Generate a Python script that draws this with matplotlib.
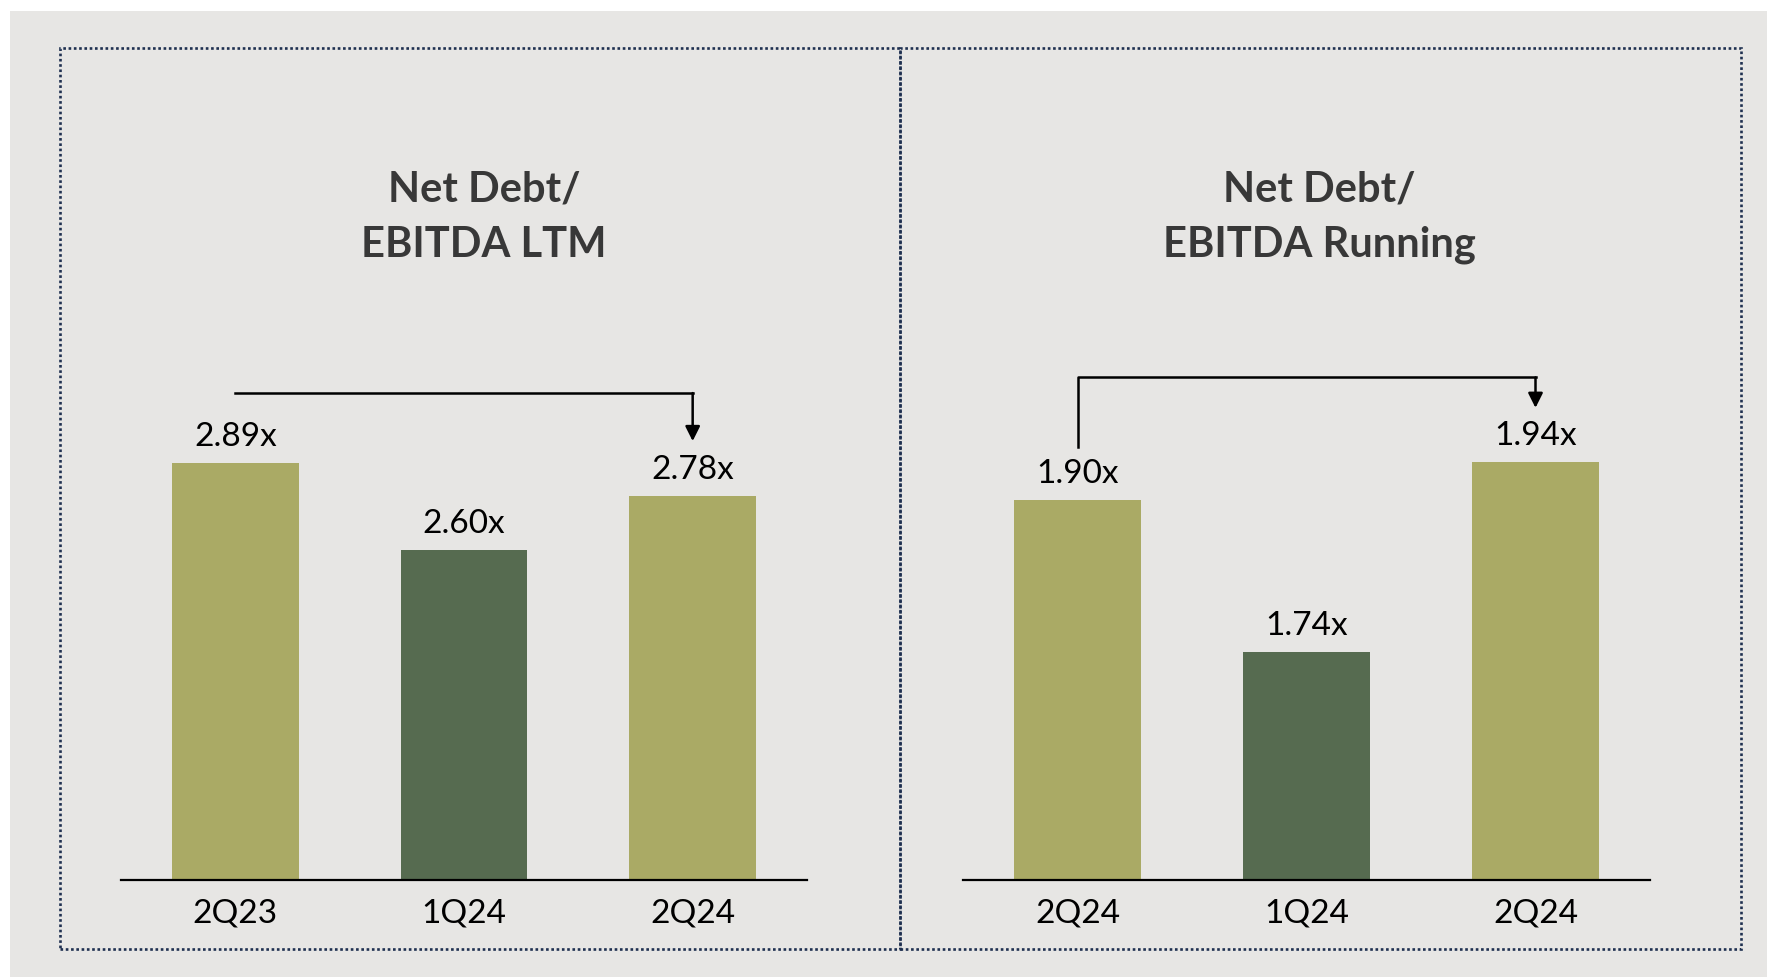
import matplotlib.pyplot as plt
from matplotlib.patches import Rectangle

plt.rcParams['font.family'] = ['Lato', 'DejaVu Sans']

# data
ltm_labels = ['2Q23', '1Q24', '2Q24']
ltm_values = [2.89, 2.60, 2.78]
run_labels = ['2Q24', '1Q24', '2Q24']
run_values = [1.90, 1.74, 1.94]
titles = ['Net Debt/\nEBITDA LTM', 'Net Debt/\nEBITDA Running']

LIGHT = '#AAAA65'
DARK = '#566B50'
BG = '#E7E6E4'
BORDER = '#1F3050'

W, H = 1767, 977


def fx(px):
    return px / W


def fy(py):
    return 1 - py / H


def draw_panel(ax, labels, values, ylim):
    x = range(len(values))
    colors = [LIGHT, DARK, LIGHT]
    ax.bar(x, values, width=0.555, color=colors, bottom=0)
    ax.set_xlim(-0.5, 2.5)
    ax.set_ylim(*ylim)
    ax.set_facecolor('none')
    for s in ['top', 'right', 'left']:
        ax.spines[s].set_visible(False)
    ax.spines['bottom'].set_linewidth(1.6)
    ax.spines['bottom'].set_color('black')
    ax.set_yticks([])
    ax.set_xticks(list(x))
    ax.set_xticklabels(labels, fontsize=24)
    ax.tick_params(axis='x', length=0, pad=13)
    for xi, v in zip(x, values):
        ax.annotate(f'{v:.2f}x', xy=(xi, v), xytext=(0, 8),
                    textcoords='offset points', ha='center', va='bottom',
                    fontsize=24)


fig = plt.figure(figsize=(W / 100, H / 100), dpi=100, facecolor='white')

# gray slide background
fig.patches.append(Rectangle((fx(10), 0), 1 - fx(10), fy(11), transform=fig.transFigure,
                             facecolor=BG, edgecolor='none', zorder=-10))
# dotted panel boxes
for x0, x1 in [(60, 900), (900, 1741)]:
    fig.patches.append(Rectangle((fx(x0), fy(949)), fx(x1 - x0), (949 - 48) / H,
                                 transform=fig.transFigure, facecolor='none',
                                 edgecolor=BORDER, lw=1.9, linestyle=(0, (1, 1))))

ax1 = fig.add_axes([fx(121), fy(880), fx(686), 580 / H])
ax2 = fig.add_axes([fx(963), fy(880), fx(687), 580 / H])

draw_panel(ax1, ltm_labels, ltm_values, (1.5, 1.5 + 580 / 300))
draw_panel(ax2, run_labels, run_values, (1.5, 1.5 + 580 / 950))

# titles
for cx, t in zip([484, 1319], titles):
    fig.text(fx(cx), fy(217), t, ha='center', va='center', fontsize=30,
             fontweight='bold', color='#383838', linespacing=1.55)

# comparison arrows
lw = 1.8
# left: horizontal line from first bar to last, then down
y_line = ltm_values[0] + 0.233
ax1.plot([0, 2], [y_line, y_line], color='black', lw=lw, clip_on=False)
ax1.annotate('', xy=(2, ltm_values[2] + 0.183), xytext=(2, y_line),
             arrowprops=dict(arrowstyle='-|>', color='black', lw=lw,
                             mutation_scale=22, shrinkA=0, shrinkB=0))
# right: up from first bar label, across, down
y_line2 = run_values[2] + 0.089
ax2.plot([0, 0, 2], [run_values[0] + 0.056, y_line2, y_line2], color='black',
         lw=lw, clip_on=False)
ax2.annotate('', xy=(2, run_values[2] + 0.057), xytext=(2, y_line2),
             arrowprops=dict(arrowstyle='-|>', color='black', lw=lw,
                             mutation_scale=22, shrinkA=0, shrinkB=0))

fig.savefig('out.png', dpi=100, facecolor='white')
